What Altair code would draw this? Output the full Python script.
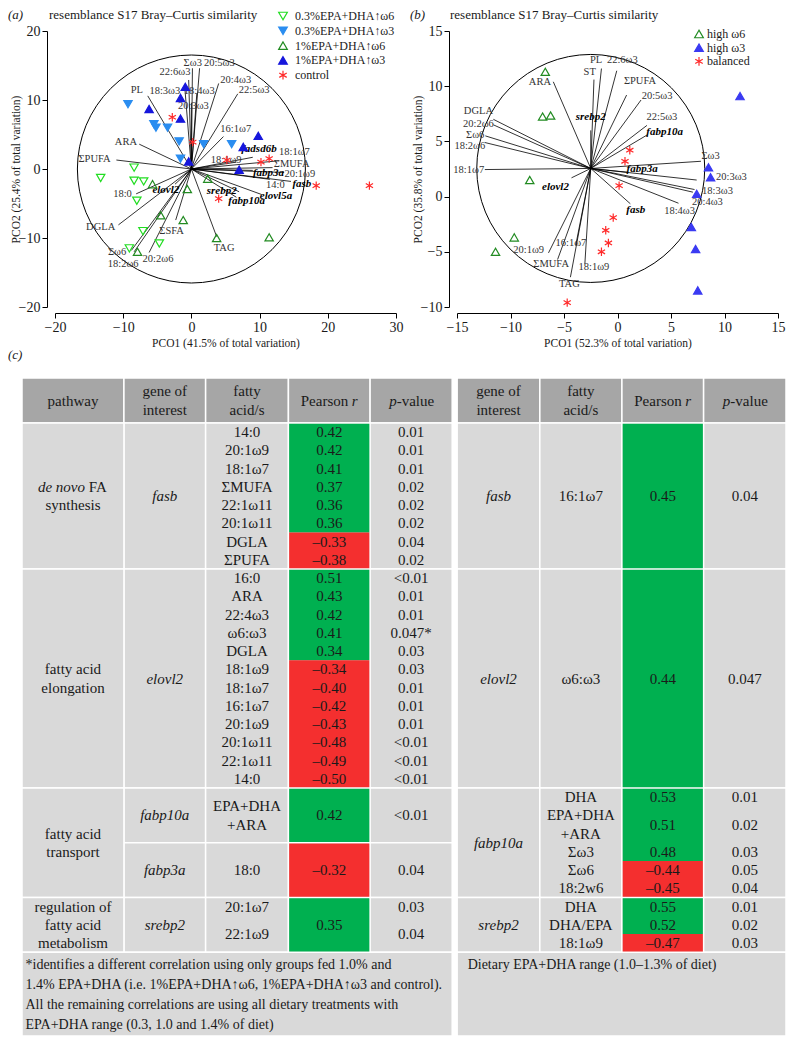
import altair as alt
import pandas as pd

FONT = "Liberation Serif"
INK = "#1a1a1a"
ASTERISK = "M0,-1L0,1M-0.866,-0.5L0.866,0.5M-0.866,0.5L0.866,-0.5"

# ---------------- panel (a): sample scores ----------------
A_GROUPS = ["0.3%EPA+DHA↑ω6", "0.3%EPA+DHA↑ω3", "1%EPA+DHA↑ω6", "1%EPA+DHA↑ω3", "control"]
A_LO6_X = [-13.3, -8.4, -8.4, -7.0, -8.0, -7.1, -4.7, -9.1]
A_LO6_Y = [-1.3, 0.2, -1.7, -1.8, -4.6, -9.0, -10.8, -11.5]
A_LO3_X = [-9.3, -5.5, -5.2, -3.5, -1.8, 1.8, 5.9, -1.6]
A_LO3_Y = [9.4, 6.5, 6.0, 6.0, 4.0, 3.6, 3.6, 1.5]
A_HI6_X = [-5.7, -0.6, 2.4, -4.5, -1.2, 3.7, 11.4, -7.9]
A_HI6_Y = [-2.2, -2.9, -1.4, -6.7, -7.4, -10.0, -9.9, -12.0]
A_HI3_X = [-6.2, -1.6, -0.9, -1.6, 9.8, 7.6, 7.0, -0.4]
A_HI3_Y = [8.7, 10.3, 11.9, 7.3, 4.8, 3.2, -0.1, 1.1]
A_CTL_X = [-2.8, 0.2, 5.2, 10.2, 11.4, 4.0, 18.3, 26.1]
A_CTL_Y = [7.5, 3.9, 1.3, 1.0, 1.5, -4.3, -2.4, -2.4]

# panel (a): vector overlay
A_CENTER = [0.0, 0.0]
A_VEC_NAME = ["Σω3", "22:6ω3", "20:5ω3", "20:4ω3", "22:5ω3", "18:4ω3", "20:3ω3", "18:3ω3", "PL",
              "16:1ω7", "fadsd6b", "18:1ω7", "ΣMUFA", "18:1ω9", "fabp3a", "20:1ω9", "14:0", "fasb",
              "elovl5a", "fabp10a", "srebp2", "elovl2", "ARA", "ΣPUFA", "18:0", "DGLA", "ΣSFA",
              "TAG", "Σω6", "18:2ω6", "20:2ω6"]
A_VEC_X = [0.15, -0.4, 1.2, 4.0, 6.8, 0.8, 0.0, -1.0, -6.4,
           4.7, 9.0, 12.9, 11.9, 6.6, 9.0, 13.6, 11.5, 14.6,
           10.3, 6.6, 7.0, -2.4, -7.65, -11.0, -8.1, -10.7, -2.3,
           3.7, -8.8, -8.4, -6.2]
A_VEC_Y = [14.6, 12.9, 14.6, 12.4, 10.9, 11.0, 9.6, 12.2, 10.6,
           4.7, 1.7, 1.2, 0.2, 1.0, -0.2, -0.5, -1.5, -1.8,
           -3.7, -4.1, -3.3, -2.2, 3.6, 1.3, -3.6, -8.1, -7.4,
           -9.8, -11.8, -12.0, -12.1]
A_LAB_X = [0.2, -2.4, 4.1, 6.5, 9.2, 1.15, 0.3, -3.9, -8.0,
           6.5, 9.9, 15.1, 14.7, 5.1, 11.3, 15.9, 12.3, 16.2,
           12.4, 8.1, 4.45, -3.75, -9.6, -14.2, -10.1, -13.3, -2.9,
           4.8, -10.9, -10.0, -4.9]
A_LAB_Y = [15.4, 14.0, 15.35, 12.9, 11.45, 11.35, 9.2, 11.35, 11.45,
           5.8, 2.9, 2.4, 0.75, 1.3, -0.6, -0.7, -2.25, -2.15,
           -3.9, -4.65, -3.25, -3.0, 3.9, 1.5, -3.6, -8.45, -9.05,
           -11.45, -12.1, -13.7, -13.1]
A_GENES = ["fadsd6b", "fabp3a", "fasb", "elovl5a", "fabp10a", "srebp2", "elovl2"]

# ---------------- panel (b) ----------------
B_GROUPS = ["high ω6", "high ω3", "balanced"]
B_HI6_X = [-6.75, -7.0, -6.25, -8.2, -9.65, -11.4]
B_HI6_Y = [11.3, 7.25, 7.35, 1.5, -3.7, -5.0]
B_HI3_X = [11.45, 8.5, 8.7, 7.4, 6.9, 7.3, 7.5]
B_HI3_Y = [9.1, 2.65, 1.75, 0.25, -2.75, -4.75, -8.5]
B_BAL_X = [1.15, 0.7, 0.15, -0.4, -1.1, -0.85, -1.5, -4.7]
B_BAL_Y = [4.2, 3.2, 1.0, -1.9, -3.05, -4.2, -5.0, -9.6]

B_CENTER = [-2.5, 2.55]
B_VEC_NAME = ["ARA", "ST", "PL", "22:6ω3", "ΣPUFA", "20:5ω3", "22:5ω3", "fabp10a", "srebp2",
              "DGLA", "20:2ω6", "Σω6", "18:2ω6", "18:1ω7", "elovl2", "fabp3a", "Σω3", "20:3ω3",
              "18:3ω3", "20:4ω3", "18:4ω3", "fasb", "20:1ω9", "16:1ω7", "ΣMUFA", "18:1ω9", "TAG"]
B_VEC_X = [-6.0, -2.2, -1.5, -0.07, 0.85, 2.2, 2.75, 2.8, -2.5,
           -11.6, -11.6, -12.35, -12.4, -12.4, -4.3, 1.0, 7.8, 7.4,
           7.2, 7.05, 5.7, 1.2, -6.45, -3.9, -5.6, -3.05, -4.4]
B_VEC_Y = [10.4, 10.6, 11.6, 11.4, 9.2, 8.75, 6.45, 5.6, 6.0,
           7.0, 6.5, 5.5, 4.9, 2.45, 1.7, 2.2, 3.2, 1.5,
           0.64, 0.4, -0.6, -0.65, -5.1, -4.4, -5.7, -6.1, -7.3]
B_LAB_X = [-7.25, -2.6, -2.0, 0.45, 2.1, 3.7, 4.15, 4.4, -2.5,
           -13.0, -13.0, -13.3, -13.8, -13.9, -5.8, 2.3, 8.7, 10.65,
           9.35, 8.4, 5.8, 1.7, -8.3, -4.35, -6.2, -2.2, -4.5]
B_LAB_Y = [10.4, 11.3, 12.4, 12.4, 10.5, 9.1, 7.25, 5.85, 7.25,
           7.75, 6.6, 5.6, 4.6, 2.4, 0.9, 2.5, 3.7, 1.75,
           0.55, -0.5, -1.3, -1.25, -4.8, -4.2, -6.1, -6.4, -7.9]
B_GENES = ["fabp10a", "srebp2", "elovl2", "fabp3a", "fasb"]

# ---------------- table (c) ----------------
HEAD_L = ["pathway", "gene of\ninterest", "fatty\nacid/s", "Pearson r", "p-value"]
HEAD_R = ["gene of\ninterest", "fatty\nacid/s", "Pearson r", "p-value"]

PATHWAYS = ["de novo FA\nsynthesis", "fatty acid\nelongation", "fatty acid\ntransport",
            "regulation of\nfatty acid\nmetabolism"]

L1_FA = ["14:0", "20:1ω9", "18:1ω7", "ΣMUFA", "22:1ω11", "20:1ω11", "DGLA", "ΣPUFA"]
L1_R = [0.42, 0.42, 0.41, 0.37, 0.36, 0.36, -0.33, -0.38]
L1_P = ["0.01", "0.01", "0.01", "0.02", "0.02", "0.02", "0.04", "0.02"]
L2_FA = ["16:0", "ARA", "22:4ω3", "ω6:ω3", "DGLA", "18:1ω9", "18:1ω7", "16:1ω7", "20:1ω9",
         "20:1ω11", "22:1ω11", "14:0"]
L2_R = [0.51, 0.43, 0.42, 0.41, 0.34, -0.34, -0.40, -0.42, -0.43, -0.48, -0.49, -0.50]
L2_P = ["<0.01", "0.01", "0.01", "0.047*", "0.03", "0.03", "0.01", "0.01", "0.01", "<0.01",
        "<0.01", "<0.01"]
L3A_FA = ["EPA+DHA\n+ARA"]
L3A_R = [0.42]
L3A_P = ["<0.01"]
L3B_FA = ["18:0"]
L3B_R = [-0.32]
L3B_P = ["0.04"]
L4_FA = ["20:1ω7", "22:1ω9"]
L4_R = [0.35, 0.35]
L4_P = ["0.03", "0.04"]

R1_FA = ["16:1ω7"]
R1_R = [0.45]
R1_P = ["0.04"]
R2_FA = ["ω6:ω3"]
R2_R = [0.44]
R2_P = ["0.047"]
R3_FA = ["DHA", "EPA+DHA\n+ARA", "Σω3", "Σω6", "18:2w6"]
R3_R = [0.53, 0.51, 0.48, -0.44, -0.45]
R3_P = ["0.01", "0.02", "0.03", "0.05", "0.04"]
R4_FA = ["DHA", "DHA/EPA", "18:1ω9"]
R4_R = [0.55, 0.52, -0.47]
R4_P = ["0.01", "0.02", "0.03"]

FOOT_L = ["*identifies a different correlation using only groups fed 1.0% and",
          "1.4% EPA+DHA (i.e. 1%EPA+DHA↑ω6, 1%EPA+DHA↑ω3 and control).",
          "All the remaining correlations are using all dietary treatments with",
          "EPA+DHA range (0.3, 1.0 and 1.4% of diet)"]
FOOT_R = ["Dietary EPA+DHA range (1.0–1.3% of diet)"]

# ======================================================================
def group_df(groups, xs, ys):
    rows = []
    for g, gx, gy in zip(groups, xs, ys):
        for x, y in zip(gx, gy):
            rows.append({"g": g, "x": x, "y": y})
    return pd.DataFrame(rows)


def vec_df(center, names, ex, ey, lx, ly, genes):
    return pd.DataFrame({
        "name": names, "x0": [center[0]] * len(names), "y0": [center[1]] * len(names),
        "x1": ex, "y1": ey, "lx": lx, "ly": ly,
        "kind": ["gene" if n in genes else "fa" for n in names],
    })


def key_layers(groups, fills, strokes, shapes, sizes, kx, ky, dy, dx):
    """A key drawn next to the plot: one symbol and one label per group."""
    out = []
    for i, (g, fi, st, sh, sz) in enumerate(zip(groups, fills, strokes, shapes, sizes)):
        d = pd.DataFrame({"t": [g]})
        out.append(alt.Chart(d).mark_point(filled=True, fill=fi, stroke=st, shape=sh, size=sz,
                                           strokeWidth=1.2, opacity=1).encode(
            x=alt.value(kx), y=alt.value(ky + i * dy)))
        out.append(alt.Chart(d).mark_text(font=FONT, fontSize=12, align="left", baseline="middle",
                                          color=INK).encode(
            x=alt.value(kx + dx), y=alt.value(ky + i * dy), text="t:N"))
    return out


def pco_panel(pts, vecs, center, groups, fills, strokes, shapes, sizes, xdom, ydom,
              xticks, yticks, xtitle, ytitle, width, height, radius_px, key,
              letter, letter_x, title_x):
    xs = alt.Scale(domain=xdom, nice=False, zero=False)
    ys = alt.Scale(domain=ydom, nice=False, zero=False)
    common = dict(grid=False, tickSize=5, labelPadding=2, labelFont=FONT, labelFontSize=14,
                  labelColor=INK, domainColor="black", tickColor="black", titleFont=FONT,
                  titleFontSize=11.5, titleFontWeight="normal", titleColor=INK,
                  labelOverlap=False)
    xax = alt.Axis(values=xticks, offset=6, title=xtitle, titlePadding=3, labelFlush=False, **common)
    yax = alt.Axis(values=yticks, offset=8, title=ytitle, titlePadding=-3, **common)

    def X(f):
        return alt.X(f, type="quantitative", scale=xs, axis=xax)

    def Y(f):
        return alt.Y(f, type="quantitative", scale=ys, axis=yax)

    circ = alt.Chart(pd.DataFrame({"x": [center[0]], "y": [center[1]]})).mark_point(
        shape="circle", size=4 * radius_px ** 2, filled=False, stroke="black",
        strokeWidth=1, opacity=1).encode(x=X("x"), y=Y("y"))
    rules = alt.Chart(vecs).mark_rule(color="black", strokeWidth=0.8).encode(
        x=X("x0"), y=Y("y0"), x2="x1:Q", y2="y1:Q")
    fa_lab = alt.Chart(vecs).transform_filter(alt.datum.kind == "fa").mark_text(
        font=FONT, fontSize=10.5, color="#333333", baseline="middle").encode(
        x=X("lx"), y=Y("ly"), text="name:N")
    gene_lab = alt.Chart(vecs).transform_filter(alt.datum.kind == "gene").mark_text(
        font=FONT, fontSize=11, fontStyle="italic", fontWeight="bold", color="black",
        baseline="middle").encode(x=X("lx"), y=Y("ly"), text="name:N")
    pts_l = alt.Chart(pts).mark_point(filled=True, strokeWidth=1.2, opacity=1).encode(
        x=X("x"), y=Y("y"),
        fill=alt.Fill("g:N", scale=alt.Scale(domain=groups, range=fills), legend=None),
        stroke=alt.Stroke("g:N", scale=alt.Scale(domain=groups, range=strokes), legend=None),
        shape=alt.Shape("g:N", scale=alt.Scale(domain=groups, range=shapes), legend=None),
        size=alt.Size("g:N", scale=alt.Scale(domain=groups, range=sizes), legend=None),
    )
    one = pd.DataFrame({"t": [letter]})
    lab = alt.Chart(one).mark_text(font=FONT, fontSize=13, fontStyle="italic", align="left",
                                   baseline="middle", color=INK).encode(
        x=alt.value(letter_x), y=alt.value(-16.5), text="t:N")
    ttl = alt.Chart(pd.DataFrame({"t": ["resemblance S17 Bray–Curtis similarity"]})).mark_text(
        font=FONT, fontSize=13, align="left", baseline="middle", color=INK).encode(
        x=alt.value(title_x), y=alt.value(-16.5), text="t:N")
    kx, ky, dy, dx = key
    keys = key_layers(groups, fills, strokes, shapes, [75] * len(groups), kx, ky, dy, dx)
    return alt.layer(circ, rules, fa_lab, gene_lab, pts_l, lab, ttl, *keys).properties(
        width=width, height=height)


LIME, LBLUE, DGREEN, BLUE, RED = "#22dd22", "#2a8df0", "#228b22", "#1616dc", "#ff2a2a"

ptsA = group_df(A_GROUPS, [A_LO6_X, A_LO3_X, A_HI6_X, A_HI3_X, A_CTL_X],
                [A_LO6_Y, A_LO3_Y, A_HI6_Y, A_HI3_Y, A_CTL_Y])
vecA = vec_df(A_CENTER, A_VEC_NAME, A_VEC_X, A_VEC_Y, A_LAB_X, A_LAB_Y, A_GENES)
panelA = pco_panel(ptsA, vecA, A_CENTER, A_GROUPS,
                   ["transparent", LBLUE, "transparent", BLUE, RED],
                   [LIME, LBLUE, DGREEN, BLUE, RED],
                   ["triangle-down", "triangle-down", "triangle-up", "triangle-up", ASTERISK],
                   [70, 70, 70, 70, 100],
                   [-20, 30], [-20, 20], [-20, -10, 0, 10, 20, 30], [-20, -10, 0, 10, 20],
                   "PCO1 (41.5% of total variation)", "PCO2 (25.4% of total variation)",
                   341, 276, 114, (228, -15, 14.8, 12), "(a)", -47, -6)

ptsB = group_df(B_GROUPS, [B_HI6_X, B_HI3_X, B_BAL_X], [B_HI6_Y, B_HI3_Y, B_BAL_Y])
vecB = vec_df(B_CENTER, B_VEC_NAME, B_VEC_X, B_VEC_Y, B_LAB_X, B_LAB_Y, B_GENES)
panelB = pco_panel(ptsB, vecB, B_CENTER, B_GROUPS,
                   ["transparent", "#3a3af2", RED],
                   [DGREEN, "#3a3af2", RED],
                   ["triangle-up", "triangle-up", ASTERISK],
                   [70, 70, 100],
                   [-15, 15], [-10, 15], [-15, -10, -5, 0, 5, 10, 15], [-10, -5, 0, 5, 10, 15],
                   "PCO1 (52.3% of total variation)", "PCO2 (35.8% of total variation)",
                   321, 276, 114, (242, 3, 13.7, 8), "(b)", -47, -7)

# ---------------- table layout ----------------
L_COL_W = [102.7, 82.3, 83.4, 82.3, 82.7]
R_COL_W = [83.3, 82.7, 82.3, 83.0]
GAP_W = 5.0
TABLE_W = 764.0
HEAD_H = 45.0
UNIT = 18.25
FOOT_H = 83.75
HEAD_FILL, BODY_FILL, GREEN, REDC = "#a6a6a6", "#d9d9d9", "#00b050", "#f42f2f"

k = TABLE_W / (sum(L_COL_W) + GAP_W + sum(R_COL_W))
lx = [0.0]
for w in L_COL_W:
    lx.append(lx[-1] + w * k)
rx = [lx[-1] + GAP_W * k]
for w in R_COL_W:
    rx.append(rx[-1] + w * k)
L_COLS = list(zip(lx[:-1], lx[1:]))
R_COLS = list(zip(rx[:-1], rx[1:]))

rects, cols_rects, texts = [], [], []


def cell(x0, x1, y0, y1, fill):
    rects.append({"x0": x0, "x1": x1, "y0": y0, "y1": y1, "fill": fill})


def txt(x, y, t, cls):
    n = t.count("\n")
    texts.append({"x": x, "y": y - n * UNIT / 2, "t": t, "cls": cls})


def fmt_r(v):
    return f"{v:.2f}".replace("-", "–")


def header(cols, labels):
    for (c0, c1), lab in zip(cols, labels):
        cell(c0, c1, 0, HEAD_H, HEAD_FILL)
        xc, yc = (c0 + c1) / 2, HEAD_H / 2
        if lab == "Pearson r":
            txt(xc + 19, yc, "Pearson", "r")
            txt(xc + 22.5, yc, "r", "li")
        elif lab == "p-value":
            txt(xc - 14.5, yc, "p", "ri")
            txt(xc - 14.5, yc, "-value", "l")
        else:
            txt(xc, yc, lab, "c")


def gene_block(cols, top, gene, fas, rs, ps, spans, merge):
    h = sum(spans) * UNIT
    for c0, c1 in cols:
        cell(c0, c1, top, top + h, BODY_FILL)
    (g0, g1), (f0, f1), (r0, r1), (p0, p1) = cols
    txt((g0 + g1) / 2, top + h / 2, gene, "ci")
    centers, bounds, yy = [], [], top
    for s in spans:
        centers.append(yy + s * UNIT / 2)
        bounds.append((yy, yy + s * UNIT))
        yy += s * UNIT
    for fa, c in zip(fas, centers):
        txt((f0 + f1) / 2, c, fa, "c")
    for p, c in zip(ps, centers):
        txt((p0 + p1) / 2, c, p, "c")
    # coloured runs of the Pearson column
    i = 0
    while i < len(rs):
        j = i
        while j + 1 < len(rs) and (rs[j + 1] > 0) == (rs[i] > 0):
            j += 1
        y0 = bounds[i][0] + (0.75 if i == 0 else 0)
        y1 = bounds[j][1] - (0.75 if j == len(rs) - 1 else 0)
        cols_rects.append({"x0": r0 + 0.75, "x1": r1 - 0.75, "y0": y0, "y1": y1,
                           "fill": GREEN if rs[i] > 0 else REDC})
        i = j + 1
    if merge:
        txt((r0 + r1) / 2, top + h / 2, fmt_r(rs[0]), "c")
    else:
        for r, c in zip(rs, centers):
            txt((r0 + r1) / 2, c, fmt_r(r), "c")
    return top + h


header(L_COLS, HEAD_L)
header(R_COLS, HEAD_R)

LEFT = [
    [("fasb", L1_FA, L1_R, L1_P, [1] * 8, False)],
    [("elovl2", L2_FA, L2_R, L2_P, [1] * 12, False)],
    [("fabp10a", L3A_FA, L3A_R, L3A_P, [3], False), ("fabp3a", L3B_FA, L3B_R, L3B_P, [3], False)],
    [("srebp2", L4_FA, L4_R, L4_P, [1, 2], True)],
]
RIGHT = [
    [("fasb", R1_FA, R1_R, R1_P, [8], False)],
    [("elovl2", R2_FA, R2_R, R2_P, [12], False)],
    [("fabp10a", R3_FA, R3_R, R3_P, [1, 2, 1, 1, 1], False)],
    [("srebp2", R4_FA, R4_R, R4_P, [1, 1, 1], False)],
]

top = HEAD_H
for path, blocks in zip(PATHWAYS, LEFT):
    y = top
    for b in blocks:
        y = gene_block(L_COLS[1:], y, *b)
    c0, c1 = L_COLS[0]
    cell(c0, c1, top, y, BODY_FILL)
    xc, yc = (c0 + c1) / 2, (top + y) / 2
    if path.startswith("de novo"):
        txt(xc + 12, yc - UNIT / 2, "de novo", "ri")
        txt(xc + 15.75, yc - UNIT / 2, "FA", "l")
        txt(xc, yc + UNIT / 2, path.split("\n")[1], "c")
    else:
        txt(xc, yc, path, "c")
    top = y
body_end = top

top = HEAD_H
for blocks in RIGHT:
    for b in blocks:
        top = gene_block(R_COLS, top, *b)

cell(lx[0], lx[-1], body_end, body_end + FOOT_H, BODY_FILL)
cell(rx[0], rx[-1], body_end, body_end + FOOT_H, BODY_FILL)
for i, line in enumerate(FOOT_L):
    txt(lx[0] + 3.5, body_end + 13 + 20 * i, line, "f")
for i, line in enumerate(FOOT_R):
    txt(rx[0] + 10.5, body_end + 13 + 20 * i, line, "f")
txt(-14, -23, "(c)", "lab")

TABLE_PLOT_W = 731
TABLE_H = HEAD_H + 29 * UNIT + FOOT_H
TX = alt.Scale(domain=[TABLE_W - TABLE_PLOT_W, TABLE_W], nice=False, zero=False)
TY = alt.Scale(domain=[0, TABLE_H], nice=False, zero=False, reverse=True)

rect_df = pd.DataFrame(rects)
col_df = pd.DataFrame(cols_rects)
text_df = pd.DataFrame(texts)

gray = alt.Chart(rect_df).mark_rect(stroke="white", strokeWidth=1.5).encode(
    x=alt.X("x0:Q", scale=TX, axis=None), x2="x1:Q",
    y=alt.Y("y0:Q", scale=TY, axis=None), y2="y1:Q",
    fill=alt.Fill("fill:N", scale=None))
colored = alt.Chart(col_df).mark_rect().encode(
    x=alt.X("x0:Q", scale=TX, axis=None), x2="x1:Q",
    y=alt.Y("y0:Q", scale=TY, axis=None), y2="y1:Q",
    fill=alt.Fill("fill:N", scale=None))

CLASSES = {
    "c": dict(align="center", fontStyle="normal", fontSize=15),
    "ci": dict(align="center", fontStyle="italic", fontSize=15),
    "r": dict(align="right", fontStyle="normal", fontSize=15),
    "ri": dict(align="right", fontStyle="italic", fontSize=15),
    "l": dict(align="left", fontStyle="normal", fontSize=15),
    "li": dict(align="left", fontStyle="italic", fontSize=15),
    "f": dict(align="left", fontStyle="normal", fontSize=14),
    "lab": dict(align="left", fontStyle="italic", fontSize=13),
}
text_layers = []
for cls, props in CLASSES.items():
    text_layers.append(
        alt.Chart(text_df).transform_filter(alt.datum.cls == cls).mark_text(
            font=FONT, baseline="middle", lineBreak="\n", lineHeight=UNIT, color=INK, **props
        ).encode(x=alt.X("x:Q", scale=TX, axis=None), y=alt.Y("y:Q", scale=TY, axis=None),
                 text="t:N"))

table = alt.layer(gray, colored, *text_layers).properties(width=TABLE_PLOT_W, height=TABLE_H)

top_row = alt.hconcat(panelA, panelB, spacing=61, bounds="flush").resolve_scale(
    x="independent", y="independent", fill="independent", stroke="independent",
    shape="independent", size="independent")

# the nested row counts with no height in a flush layout, so the gap runs from its top
chart = alt.vconcat(top_row, table, spacing=347, bounds="flush").resolve_scale(
    x="independent", y="independent", fill="independent", stroke="independent",
    shape="independent", size="independent").properties(padding=0).configure(
    font=FONT).configure_view(stroke=None)

chart.save("out.html", embed_options={"renderer": "svg", "actions": False})
